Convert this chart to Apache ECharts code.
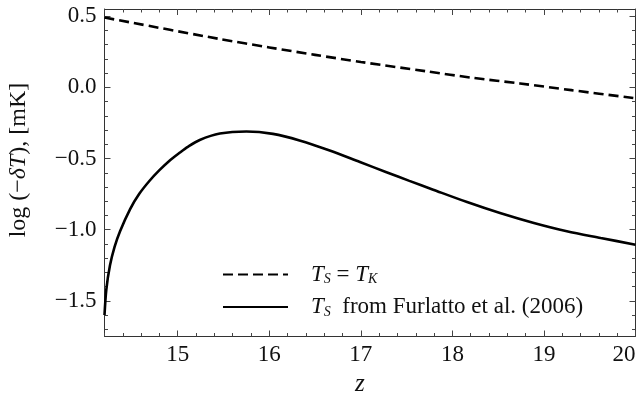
<!DOCTYPE html>
<html>
<head>
<meta charset="utf-8">
<script src="https://cdn.jsdelivr.net/npm/echarts@6/dist/echarts.min.js"></script>
<style>html,body{margin:0;padding:0;background:#fff}#c{width:641px;height:403px}</style>
</head>
<body>
<div id="c"></div>
<script>
// ---- data ----
var zDashed = [14.20, 15.46, 16.00, 16.50, 17.00, 17.72, 18.23, 18.74, 19.30, 20.00];
var vDashed = [0.490, 0.339, 0.280, 0.228, 0.178, 0.112, 0.066, 0.027, -0.020, -0.077];

var zSolid = [14.20, 14.22, 14.26, 14.31, 14.37, 14.48, 14.58, 14.69, 14.80, 14.91, 15.02, 15.11, 15.24, 15.46, 15.75, 16.04, 16.33, 16.66, 16.99, 17.28, 17.53, 17.79, 18.16, 18.52, 18.89, 19.25, 19.62, 20.00];
var vSolid = [-1.60, -1.42, -1.25, -1.12, -1.01, -0.855, -0.748, -0.658, -0.582, -0.515, -0.46, -0.418, -0.37, -0.325, -0.31, -0.327, -0.373, -0.444, -0.525, -0.596, -0.657, -0.719, -0.806, -0.883, -0.953, -1.011, -1.058, -1.105];

var xMajorTicks = [15, 16, 17, 18, 19, 20];
var xTickLabels = ['15', '16', '17', '18', '19', '20'];
var yMajorTicks = [-1.5, -1.0, -0.5, 0.0, 0.5];
var yTickLabels = ['\u22121.5', '\u22121.0', '\u22120.5', '0.0', '0.5'];
var yMinorTicks = [-1.7, -1.6, -1.5, -1.4, -1.3, -1.2, -1.1, -1.0, -0.9, -0.8, -0.7, -0.6, -0.5, -0.4, -0.3, -0.2, -0.1, 0.0, 0.1, 0.2, 0.3, 0.4, 0.5];
var seriesNames = ['TS = TK', 'TS from Furlatto et al. (2006)'];

function pairs(xs, ys) { return xs.map(function (x, i) { return [x, ys[i]]; }); }

var FONT = 'Liberation Serif';
var frameColor = '#333';
var tickColor = '#444';
var X_MIN = 14.2, X_MAX = 20, Y_MIN = -1.75, Y_MAX = 0.55;

function xAxisDef(pos, major, labels) {
  return {
    type: 'value', position: pos, min: X_MIN, max: X_MAX,
    interval: major ? undefined : 0.2,
    axisLine: { show: major, onZero: false, lineStyle: { color: frameColor, width: 1 } },
    axisTick: major ? { show: true, inside: true, length: 6, customValues: xMajorTicks, lineStyle: { color: tickColor, width: 1 } }
                    : { show: true, inside: true, length: 3.5, lineStyle: { color: tickColor, width: 1 } },
    axisLabel: labels ? {
      show: true, customValues: xMajorTicks, margin: 7, alignMaxLabel: 'right',
      fontFamily: FONT, fontSize: 23, color: '#111',
      formatter: function (v) { var i = xMajorTicks.indexOf(Math.round(v)); return i >= 0 ? xTickLabels[i] : ''; }
    } : { show: false },
    splitLine: { show: false }
  };
}
function yAxisDef(pos, major, labels) {
  return {
    type: 'value', position: pos, min: Y_MIN, max: Y_MAX,
    axisLine: { show: major, onZero: false, lineStyle: { color: frameColor, width: 1 } },
    axisTick: major ? { show: true, inside: true, length: 6, customValues: yMajorTicks, lineStyle: { color: tickColor, width: 1 } }
                    : { show: true, inside: true, length: 3.5, customValues: yMinorTicks, lineStyle: { color: tickColor, width: 1 } },
    axisLabel: labels ? {
      show: true, customValues: yMajorTicks, margin: 8,
      fontFamily: FONT, fontSize: 23, color: '#111',
      formatter: function (v) {
        for (var i = 0; i < yMajorTicks.length; i++) { if (Math.abs(yMajorTicks[i] - v) < 1e-6) return yTickLabels[i]; }
        return '';
      }
    } : { show: false },
    splitLine: { show: false }
  };
}

var chart = echarts.init(document.getElementById('c'), null, { renderer: 'canvas' });
chart.setOption({
  animation: false,
  backgroundColor: '#fff',
  grid: { left: 104.5, right: 5.5, top: 9, bottom: 66.5, containLabel: false },
  xAxis: [xAxisDef('bottom', true, true), xAxisDef('bottom', false, false), xAxisDef('top', true, false), xAxisDef('top', false, false)],
  yAxis: [yAxisDef('left', true, true), yAxisDef('left', false, false), yAxisDef('right', true, false), yAxisDef('right', false, false)],
  legend: {
    orient: 'vertical', left: 217, top: 258,
    itemWidth: 65, itemHeight: 14, itemGap: 9,
    itemStyle: { color: 'rgba(0,0,0,0)', borderWidth: 0, opacity: 0 },
    data: seriesNames,
    formatter: function (name) {
      if (name === seriesNames[0]) return '{sp|}{i|T}{s|S}{n| = }{i|T}{s|K}';
      return '{sp|}{i|T}{s|S}{n|  from Furlatto et al. (2006)}';
    },
    textStyle: {
      fontFamily: FONT, fontSize: 23, color: '#111',
      rich: {
        sp: { width: 18 },
        i: { fontFamily: FONT, fontStyle: 'italic', fontSize: 23, color: '#111', lineHeight: 24, verticalAlign: 'middle' },
        n: { fontFamily: FONT, fontSize: 23, color: '#111', lineHeight: 24, verticalAlign: 'middle' },
        s: { fontFamily: FONT, fontStyle: 'italic', fontSize: 14, color: '#111', lineHeight: 14, verticalAlign: 'bottom' }
      }
    }
  },
  graphic: [
    { type: 'text', left: 355, top: 372, style: { text: 'z', fontFamily: FONT, fontStyle: 'italic', fontSize: 25, fill: '#111' } },
    { type: 'text', x: 19, y: 160, rotation: Math.PI / 2,
      style: { text: '{n|log (\u2212}{i|\u03B4T}{n|), [mK]}', align: 'center', verticalAlign: 'middle',
        rich: { n: { fontFamily: FONT, fontSize: 24, fill: '#111' }, i: { fontFamily: FONT, fontStyle: 'italic', fontSize: 24, fill: '#111' } } } }
  ],
  series: [
    { name: seriesNames[0], type: 'line', xAxisIndex: 0, yAxisIndex: 0, data: pairs(zDashed, vDashed),
      showSymbol: false, symbol: 'none', smooth: 0.3, clip: true,
      lineStyle: { color: '#000', width: 2.6, type: [10, 5] }, itemStyle: { color: '#000' } },
    { name: seriesNames[1], type: 'line', xAxisIndex: 0, yAxisIndex: 0, data: pairs(zSolid, vSolid),
      showSymbol: false, symbol: 'none', smooth: 0.3, clip: true,
      lineStyle: { color: '#000', width: 2.6 }, itemStyle: { color: '#000' } }
  ]
});
</script>
</body>
</html>
